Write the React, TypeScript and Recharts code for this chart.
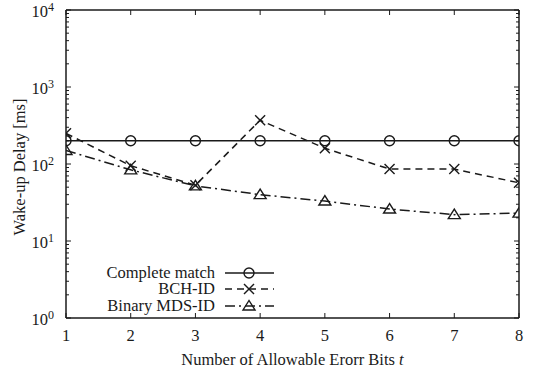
import { LineChart, Line, XAxis, YAxis, Legend, Label } from "recharts";

// t = number of allowable error bits
const tValues = [1, 2, 3, 4, 5, 6, 7, 8];
const completeMatch = [200, 200, 200, 200, 200, 200, 200, 200];
const bchId = [250, 95, 53, 370, 160, 86, 86, 57];
const binaryMdsId = [150, 84, 52, 40, 33, 26, 22, 23];

const xTicks = [1, 2, 3, 4, 5, 6, 7, 8];
const yDecades = [1, 10, 100, 1000, 10000];

const INK = "#1a1a1a";
const FONT = "'Liberation Serif', 'Times New Roman', serif";
const FS = 16.5;

const data = tValues.map((t, i) => ({
  t,
  complete: completeMatch[i],
  bch: bchId[i],
  mds: binaryMdsId[i],
}));

// minor ticks 2..9 inside each decade
const yTicks: number[] = [];
yDecades.slice(0, -1).forEach((d) => {
  for (let k = 1; k <= 9; k++) yTicks.push(d * k);
});
yTicks.push(yDecades[yDecades.length - 1]);

const isDecade = (v: number) => yDecades.includes(v);

const series = [
  { key: "complete", name: "Complete match", dash: undefined, marker: "circle" },
  { key: "bch", name: "BCH-ID", dash: "7 5", marker: "cross" },
  { key: "mds", name: "Binary MDS-ID", dash: "10 4 2 4", marker: "triangle" },
];

function Marker({ cx, cy, type }: { cx: number; cy: number; type: string }) {
  if (cx == null || cy == null) return null;
  if (type === "circle") {
    return <circle cx={cx} cy={cy} r={5} fill="none" stroke={INK} strokeWidth={1.4} />;
  }
  if (type === "cross") {
    const s = 5;
    return (
      <g stroke={INK} strokeWidth={1.4}>
        <line x1={cx - s} y1={cy - s} x2={cx + s} y2={cy + s} />
        <line x1={cx - s} y1={cy + s} x2={cx + s} y2={cy - s} />
      </g>
    );
  }
  return (
    <polygon
      points={`${cx},${cy - 5.5} ${cx - 6},${cy + 4} ${cx + 6},${cy + 4}`}
      fill="none"
      stroke={INK}
      strokeWidth={1.4}
    />
  );
}

function LeftTick(props: any) {
  const { x, y, payload } = props;
  const v = payload.value;
  const major = isDecade(v);
  return (
    <g>
      <line x1={x} x2={x + (major ? 5 : 3)} y1={y} y2={y} stroke={INK} />
      {major && (
        <text x={x - 12} y={y} dy={6.5} textAnchor="end" fontSize={FS} fill={INK} fontFamily={FONT}>
          10
          <tspan dy={-6} fontSize={12}>
            {Math.round(Math.log10(v))}
          </tspan>
        </text>
      )}
    </g>
  );
}

function RightTick(props: any) {
  const { x, y, payload } = props;
  const major = isDecade(payload.value);
  return <line x1={x} x2={x - (major ? 5 : 3)} y1={y} y2={y} stroke={INK} />;
}

function BottomTick(props: any) {
  const { x, y, payload } = props;
  return (
    <g>
      <line x1={x} x2={x} y1={y} y2={y - 5} stroke={INK} />
      <text x={x} y={y + 22.5} textAnchor="middle" fontSize={FS} fill={INK} fontFamily={FONT}>
        {payload.value}
      </text>
    </g>
  );
}

function TopTick(props: any) {
  const { x, y } = props;
  return <line x1={x} x2={x} y1={y} y2={y + 5} stroke={INK} />;
}

function YTitle(props: any) {
  const vb = props.viewBox || { x: 0, y: 10, width: 66, height: 308 };
  const cx = vb.x + 24.5;
  const cy = vb.y + vb.height / 2 + 3;
  return (
    <text
      x={cx}
      y={cy}
      transform={`rotate(-90, ${cx}, ${cy})`}
      textAnchor="middle"
      fontSize={FS}
      fill={INK}
      fontFamily={FONT}
    >
      Wake-up Delay [ms]
    </text>
  );
}

function XTitle(props: any) {
  const vb = props.viewBox || { x: 66, y: 318, width: 453, height: 52 };
  return (
    <text
      x={vb.x + vb.width / 2}
      y={vb.y + 46.5}
      textAnchor="middle"
      fontSize={FS}
      fill={INK}
      fontFamily={FONT}
    >
      Number of Allowable Erorr Bits <tspan fontStyle="italic">t</tspan>
    </text>
  );
}

function LegendBox() {
  return (
    <div style={{ fontFamily: FONT, fontSize: FS, color: INK }}>
      {series.map((s) => (
        <div
          key={s.key}
          style={{ display: "flex", alignItems: "center", justifyContent: "flex-end", height: 16.6 }}
        >
          <span style={{ lineHeight: "16px", whiteSpace: "nowrap" }}>{s.name}</span>
          <svg width={52} height={16} style={{ marginLeft: 9, display: "block" }}>
            <line x1={1} x2={50} y1={8} y2={8} stroke={INK} strokeWidth={1.5} strokeDasharray={s.dash} />
            <Marker cx={25} cy={8} type={s.marker} />
          </svg>
        </div>
      ))}
    </div>
  );
}

export default function App() {
  return (
    <div style={{ position: "absolute", left: 0, top: 0, background: "#fff" }}>
      <LineChart width={534} height={370} data={data} margin={{ top: 0, right: 0, bottom: 0, left: 0 }}>
        <XAxis
          xAxisId="b"
          dataKey="t"
          type="number"
          domain={[1, 8]}
          ticks={xTicks}
          interval={0}
          allowDataOverflow
          height={52}
          tickSize={0}
          tickMargin={0}
          tickLine={false}
          axisLine={{ stroke: INK, strokeWidth: 1.5 }}
          tick={(p: any) => <BottomTick {...p} />}
        >
          <Label content={XTitle} />
        </XAxis>
        <XAxis
          xAxisId="top"
          orientation="top"
          dataKey="t"
          type="number"
          domain={[1, 8]}
          ticks={xTicks}
          interval={0}
          allowDataOverflow
          height={10}
          tickSize={0}
          tickMargin={0}
          tickLine={false}
          axisLine={{ stroke: INK, strokeWidth: 1.5 }}
          tick={(p: any) => <TopTick {...p} />}
        />
        <YAxis
          yAxisId="l"
          type="number"
          scale="log"
          domain={[1, 10000]}
          ticks={yTicks}
          interval={0}
          allowDataOverflow
          width={66}
          tickSize={0}
          tickMargin={0}
          tickLine={false}
          axisLine={{ stroke: INK, strokeWidth: 1.5 }}
          tick={(p: any) => <LeftTick {...p} />}
        >
          <Label content={YTitle} />
        </YAxis>
        <YAxis
          yAxisId="r"
          orientation="right"
          type="number"
          scale="log"
          domain={[1, 10000]}
          ticks={yTicks}
          interval={0}
          allowDataOverflow
          width={15}
          tickSize={0}
          tickMargin={0}
          tickLine={false}
          axisLine={{ stroke: INK, strokeWidth: 1.5 }}
          tick={(p: any) => <RightTick {...p} />}
        />
        {series.map((s) => (
          <Line
            key={s.key}
            xAxisId="b"
            yAxisId="l"
            dataKey={s.key}
            name={s.name}
            type="linear"
            stroke={INK}
            strokeWidth={1.5}
            strokeDasharray={s.dash}
            isAnimationActive={false}
            dot={(p: any) => <Marker key={`${s.key}-${p.index}`} cx={p.cx} cy={p.cy} type={s.marker} />}
            activeDot={false}
          />
        ))}
        <Legend
          layout="vertical"
          align="center"
          verticalAlign="middle"
          wrapperStyle={{ left: 88, top: 264.5, width: 188, height: 50 }}
          content={() => <LegendBox />}
        />
      </LineChart>
    </div>
  );
}
